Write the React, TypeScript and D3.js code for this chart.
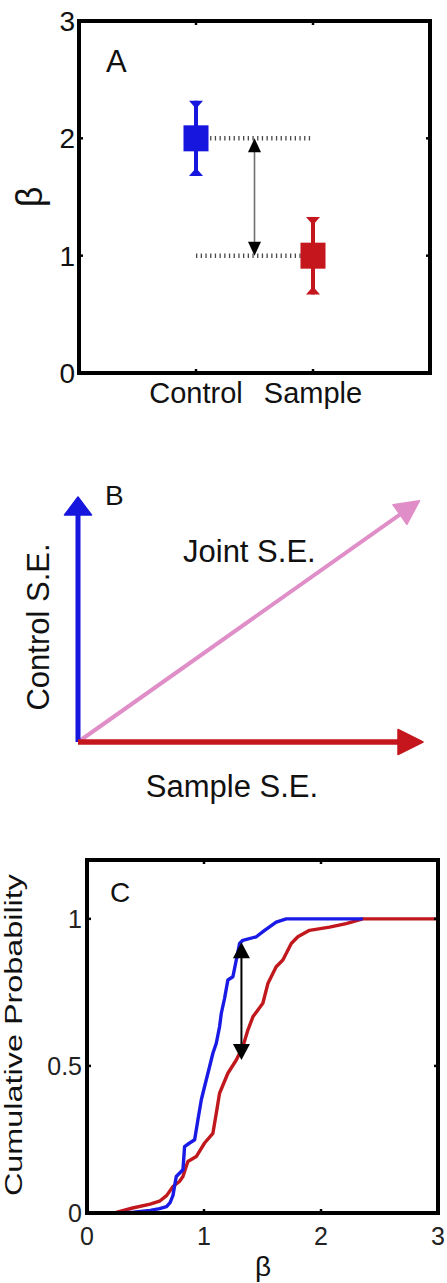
import React from "react";
import * as d3 from "d3";

// Panel A: group estimates with standard errors
const groups = ["Control", "Sample"];
const groupPos = [1, 2];
const groupMeans = [2, 1];
const groupSE = [0.32, 0.33];
const groupColors = ["#1616de", "#c4161c"];
const yTicksA = [0, 1, 2, 3];

// Panel B: standard-error vectors
const vectorNames = ["Control S.E.", "Sample S.E.", "Joint S.E."];
const vectorDX = [0, 1, 0.99];
const vectorDY = [1, 0, 0.985];
const vectorColors = ["#1616de", "#c4161c", "#e08ec8"];

// Panel C: empirical cumulative distributions of beta
const controlBeta = [0.25, 0.4, 0.54, 0.62, 0.68, 0.71, 0.735, 0.75, 0.763, 0.82, 0.834, 0.877, 0.92, 0.948, 0.977, 1.005, 1.048, 1.076, 1.105, 1.133, 1.148, 1.176, 1.204, 1.247, 1.276, 1.304, 1.332, 1.447, 1.518, 1.617, 1.703, 2.357];
const controlCdf = [0, 0.003, 0.009, 0.015, 0.022, 0.035, 0.06, 0.095, 0.124, 0.147, 0.226, 0.238, 0.249, 0.317, 0.385, 0.43, 0.498, 0.543, 0.577, 0.633, 0.679, 0.73, 0.792, 0.803, 0.86, 0.916, 0.927, 0.939, 0.961, 0.989, 1, 1];
const sampleBeta = [0.25, 0.39, 0.54, 0.62, 0.68, 0.735, 0.79, 0.82, 0.862, 0.934, 1.005, 1.076, 1.105, 1.133, 1.204, 1.276, 1.332, 1.375, 1.418, 1.503, 1.546, 1.617, 1.674, 1.746, 1.802, 1.902, 2.073, 2.215, 2.357, 3];
const sampleCdf = [0.002, 0.017, 0.03, 0.04, 0.059, 0.09, 0.107, 0.124, 0.175, 0.192, 0.238, 0.271, 0.339, 0.407, 0.475, 0.52, 0.565, 0.622, 0.667, 0.713, 0.78, 0.837, 0.86, 0.916, 0.939, 0.961, 0.972, 0.984, 1, 1];
const gapAt = 1.32;
const gapTop = 0.92;
const gapBottom = 0.52;
const xTicksC = [0, 1, 2, 3];
const yTicksC = [0, 0.5, 1];
const yTickLabelsC = ["0", "0.5", "1"];

const FONT = "'Liberation Sans', Arial, Helvetica, sans-serif";

function tri(cx: number, tipY: number, baseY: number, halfW: number) {
  return `M${cx - halfW},${baseY}L${cx + halfW},${baseY}L${cx},${tipY}Z`;
}

function Arrow({ x0, y0, x1, y1, color, width, headLen, headHalf }: any) {
  const dx = x1 - x0;
  const dy = y1 - y0;
  const len = Math.hypot(dx, dy);
  const ux = dx / len;
  const uy = dy / len;
  const bx = x1 - ux * headLen;
  const by = y1 - uy * headLen;
  const px = -uy;
  const py = ux;
  const head = `M${x1},${y1}L${bx + px * headHalf},${by + py * headHalf}L${bx - px * headHalf},${by - py * headHalf}Z`;
  return (
    <g>
      <line x1={x0} y1={y0} x2={bx + ux * 2} y2={by + uy * 2} stroke={color} strokeWidth={width} />
      <path d={head} fill={color} stroke={color} strokeWidth={1.5} strokeLinejoin="round" />
    </g>
  );
}

function PanelA() {
  const x = d3.scaleLinear().domain([0, 3]).range([79, 430]);
  const y = d3.scaleLinear().domain([0, 3]).range([373, 21]);
  const arrowX = x(1.5);
  return (
    <g>
      {/* reference lines at the two estimates */}
      {groupMeans.map((m, i) => (
        <line key={"ref" + i} x1={x(1)} x2={x(1.98)} y1={y(m)} y2={y(m)} stroke="#2a2a2a" strokeWidth={4.5} strokeDasharray="1.3 3.4" opacity={0.85} />
      ))}
      {/* difference arrow */}
      <line x1={arrowX} x2={arrowX} y1={y(2) + 12} y2={y(1) - 12} stroke="#707070" strokeWidth={1.6} />
      <path d={tri(arrowX, y(2), y(2) + 14, 6.5)} fill="#000" />
      <path d={tri(arrowX, y(1), y(1) - 14, 6.5)} fill="#000" />
      {groups.map((g, i) => {
        const cx = x(groupPos[i]);
        const top = y(groupMeans[i] + groupSE[i]);
        const bot = y(groupMeans[i] - groupSE[i]);
        const c = groupColors[i];
        return (
          <g key={g}>
            <line x1={cx} x2={cx} y1={top} y2={bot} stroke={c} strokeWidth={4} />
            <path d={tri(cx, top + 8, top, 7)} fill={c} />
            <path d={tri(cx, bot - 8, bot, 7)} fill={c} />
            <rect x={cx - 12.5} y={y(groupMeans[i]) - 13} width={25} height={26} fill={c} />
          </g>
        );
      })}
      {/* frame and ticks */}
      <rect x={79} y={21} width={351} height={352} fill="none" stroke="#000" strokeWidth={4} />
      {groupPos.map((p) => (
        <g key={"xt" + p}>
          <line x1={x(p)} x2={x(p)} y1={y(0)} y2={y(0) - 4} stroke="#000" strokeWidth={2.5} />
          <line x1={x(p)} x2={x(p)} y1={y(3)} y2={y(3) + 4} stroke="#000" strokeWidth={2.5} />
        </g>
      ))}
      {[1, 2].map((t) => (
        <g key={"yt" + t}>
          <line x1={x(0)} x2={x(0) + 4} y1={y(t)} y2={y(t)} stroke="#000" strokeWidth={2.5} />
          <line x1={x(3)} x2={x(3) - 4} y1={y(t)} y2={y(t)} stroke="#000" strokeWidth={2.5} />
        </g>
      ))}
      {yTicksA.map((t) => (
        <text key={"yl" + t} x={75} y={y(t)} dy="0.36em" textAnchor="end" fontSize={28} fontFamily={FONT} fill="#111">
          {t}
        </text>
      ))}
      {groups.map((g, i) => (
        <text key={"xl" + g} x={x(groupPos[i])} y={403} textAnchor="middle" fontSize={29} fontFamily={FONT} fill="#111">
          {g}
        </text>
      ))}
      <text x={106} y={72} fontSize={31} fontFamily={FONT} fill="#111">A</text>
      <text transform={`translate(42,197) rotate(-90)`} textAnchor="middle" fontSize={36} fontFamily={FONT} fill="#111">β</text>
    </g>
  );
}

function PanelB() {
  const x = d3.scaleLinear().domain([0, 1]).range([78, 423]);
  const y = d3.scaleLinear().domain([0, 1]).range([742, 497]);
  const widths = [5, 5.5, 4];
  const heads = [[18, 13.5], [25, 12.5], [24, 12]];
  const order = [2, 0, 1];
  return (
    <g>
      {order.map((i) => (
        <Arrow key={vectorNames[i]} x0={x(0)} y0={y(0)} x1={x(vectorDX[i])} y1={y(vectorDY[i])} color={vectorColors[i]} width={widths[i]} headLen={heads[i][0]} headHalf={heads[i][1]} />
      ))}
      <text x={105} y={505} fontSize={28} fontFamily={FONT} fill="#111">B</text>
      <text x={183} y={562} fontSize={31} fontFamily={FONT} fill="#111">{vectorNames[2]}</text>
      <text x={232} y={797} textAnchor="middle" fontSize={31} fontFamily={FONT} fill="#111">{vectorNames[1]}</text>
      <text transform={`translate(49,627) rotate(-90)`} textAnchor="middle" fontSize={31} fontFamily={FONT} fill="#111">{vectorNames[0]}</text>
    </g>
  );
}

function PanelC() {
  const x = d3.scaleLinear().domain([0, 3]).range([87, 438]);
  const y = d3.scaleLinear().domain([0, 1.2]).range([1213, 860]);
  const line = d3.line<[number, number]>().x((d) => x(d[0])).y((d) => y(d[1]));
  const ctrl = controlBeta.map((b, i) => [b, controlCdf[i]] as [number, number]);
  const samp = sampleBeta.map((b, i) => [b, sampleCdf[i]] as [number, number]);
  const ax = x(gapAt);
  return (
    <g>
      <path d={line(samp) || ""} fill="none" stroke="#c0181c" strokeWidth={3.4} strokeLinejoin="round" />
      <path d={line(ctrl) || ""} fill="none" stroke="#1a1ae6" strokeWidth={3.4} strokeLinejoin="round" />
      <line x1={ax} x2={ax} y1={y(gapTop) + 14} y2={y(gapBottom) - 14} stroke="#000" strokeWidth={2} />
      <path d={tri(ax, y(gapTop), y(gapTop) + 16, 8.5)} fill="#000" />
      <path d={tri(ax, y(gapBottom), y(gapBottom) - 16, 8.5)} fill="#000" />
      <rect x={87} y={860} width={351} height={353} fill="none" stroke="#000" strokeWidth={4} />
      {[1, 2].map((t) => (
        <g key={"xt" + t}>
          <line x1={x(t)} x2={x(t)} y1={y(0)} y2={y(0) - 4} stroke="#000" strokeWidth={2.5} />
          <line x1={x(t)} x2={x(t)} y1={y(1.2)} y2={y(1.2) + 4} stroke="#000" strokeWidth={2.5} />
        </g>
      ))}
      {[0.5, 1].map((t) => (
        <g key={"yt" + t}>
          <line x1={x(0)} x2={x(0) + 4} y1={y(t)} y2={y(t)} stroke="#000" strokeWidth={2.5} />
          <line x1={x(3)} x2={x(3) - 4} y1={y(t)} y2={y(t)} stroke="#000" strokeWidth={2.5} />
        </g>
      ))}
      {yTicksC.map((t, i) => (
        <text key={"yl" + t} x={82} y={y(t)} dy="0.36em" textAnchor="end" fontSize={25} fontFamily={FONT} fill="#222">
          {yTickLabelsC[i]}
        </text>
      ))}
      {xTicksC.map((t) => (
        <text key={"xl" + t} x={x(t)} y={1245} textAnchor="middle" fontSize={25} fontFamily={FONT} fill="#222">
          {t}
        </text>
      ))}
      <text x={110} y={902} fontSize={28} fontFamily={FONT} fill="#111">C</text>
      <text x={263} y={1276} textAnchor="middle" fontSize={28} fontFamily={FONT} fill="#111">β</text>
      <text transform={`translate(21.5,1035) rotate(-90)`} textAnchor="middle" fontSize={23} textLength={322} lengthAdjust="spacingAndGlyphs" fontFamily={FONT} fill="#111">
        Cumulative Probability
      </text>
    </g>
  );
}

export default function App() {
  return (
    <div style={{ position: "absolute", left: 0, top: 0 }}>
      <svg width={447} height={1283} viewBox="0 0 447 1283" style={{ display: "block", background: "#fff" }}>
        <PanelA />
        <PanelB />
        <PanelC />
      </svg>
    </div>
  );
}
